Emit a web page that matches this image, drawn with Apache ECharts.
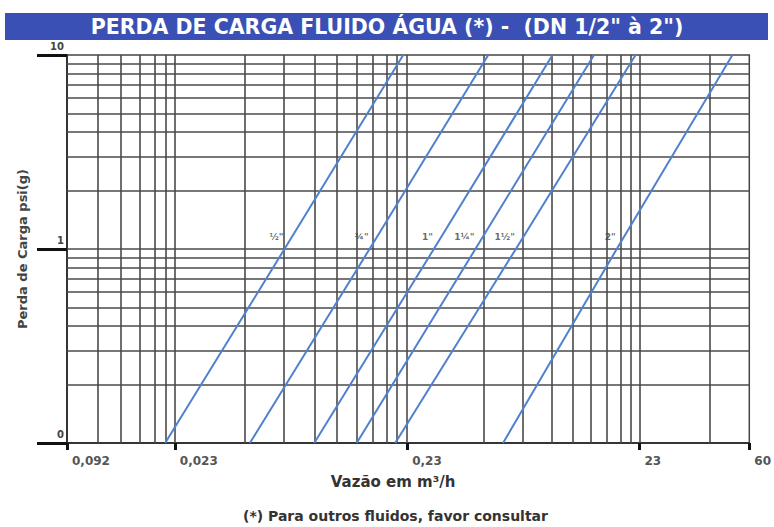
<!DOCTYPE html>
<html><head><meta charset="utf-8">
<script src="https://cdn.jsdelivr.net/npm/echarts@6/dist/echarts.min.js"></script>
<style>html,body{margin:0;padding:0;background:#fff}#c{width:774px;height:527px}</style>
</head><body><div id="c"></div>
<script>
const titleText = 'PERDA DE CARGA FLUIDO ÁGUA (*) -  (DN 1/2" à 2")';
const xAxisName = 'Vazão em m³/h';
const yAxisName = 'Perda de Carga psi(g)';
const footnote = '(*) Para outros fluidos, favor consultar';

const xMin = 0.0079, xMax = 6.83;
const yMin = 0.1, yMax = 10;
const xTickValues = [0.0079, 0.023, 0.23, 2.3, 6.83];
const xTickLabels = ['0,092', '0,023', '0,23', '23', '60'];
const yTickValues = [0.1, 1, 10];
const yTickLabels = ['0', '1', '10'];
const xGridValues = [0.0107, 0.0134, 0.0162, 0.0189, 0.0211, 0.023,
  0.046, 0.068, 0.092, 0.115, 0.139, 0.163, 0.187, 0.208, 0.23,
  0.49, 0.72, 0.96, 1.19, 1.42, 1.67, 1.91, 2.11, 2.3, 4.6];
const yGridValues = [0.2, 0.3, 0.4, 0.5, 0.6, 0.7, 0.8, 0.9, 1, 2, 3, 4, 5, 6, 7, 8, 9];
const lineNames = ['½"', '¾"', '1"', '1¼"', '1½"', '2"'];
const flowAtLow = [0.0209, 0.0484, 0.0916, 0.1395, 0.2044, 0.595];   // at 0.1 psi
const flowAt1psi = [0.0682, 0.1585, 0.2997, 0.4524, 0.6757, 1.836]; // at 1 psi
const flowAtHigh = [0.2212, 0.5137, 0.9713, 1.4655, 2.212, 5.778];  // at 10 psi

const FONT = 'DejaVu Sans';
function lookup(vals, labels, v) {
  for (let i = 0; i < vals.length; i++) if (Math.abs(v - vals[i]) / vals[i] < 1e-6) return labels[i];
  return '';
}

const chart = echarts.init(document.getElementById('c'), null, {renderer: 'svg'});

const series = [{
  type: 'lines', coordinateSystem: 'cartesian2d', silent: true, z: 1, polyline: false,
  lineStyle: {color: '#4a4a4a', width: 1.6, opacity: 1},
  data: xGridValues.map(v => ({coords: [[v, yMin], [v, yMax]]}))
    .concat(yGridValues.map(v => ({coords: [[xMin, v], [xMax, v]]})))
}];
lineNames.forEach((n, i) => {
  series.push({
    type: 'line', name: n, z: 3, symbol: 'none',
    lineStyle: {color: '#5180cf', width: 2},
    data: [[flowAtLow[i], 0.1], [flowAt1psi[i], 1], [flowAtHigh[i], 10]]
  });
});
series.push({
  type: 'scatter', z: 4, symbolSize: 0, silent: true,
  data: lineNames.map((n, i) => ({name: n, value: [flowAt1psi[i], 1]})),
  label: {show: true, formatter: '{b}', position: 'left', distance: 1, offset: [0, -12],
    fontSize: 9, fontWeight: 'bold', color: '#444', fontFamily: FONT}
});

chart.setOption({
  animation: false,
  title: [
    {text: titleText, left: 'center', top: 16, padding: [0, 0, 0, 12], z: 10,
     textStyle: {color: '#fff', fontSize: 20.5, fontWeight: 'bold', fontFamily: FONT}},
    {text: footnote, left: 243, top: 509, padding: 0,
     textStyle: {color: '#333', fontSize: 14, fontWeight: 'bold', fontFamily: FONT}}
  ],
  graphic: [{type: 'rect', left: 5, top: 13, z: 0, shape: {width: 763, height: 27}, style: {fill: '#3a50b4'}}],
  grid: {left: 67, right: 17, top: 55, bottom: 84, show: true, borderColor: '#444', borderWidth: 1.5},
  xAxis: {
    type: 'log', logBase: 10, min: xMin, max: xMax,
    name: xAxisName, nameLocation: 'middle', nameGap: 31,
    nameTextStyle: {fontSize: 15, fontWeight: 'bold', color: '#333', fontFamily: FONT, padding: [0, 30, 0, 0]},
    axisLine: {show: true, lineStyle: {color: '#222', width: 1.5}},
    axisTick: {show: true, customValues: xTickValues, length: 7, lineStyle: {color: '#111', width: 3}},
    axisLabel: {customValues: xTickValues, showMinLabel: true, showMaxLabel: true, hideOverlap: false,
      formatter: v => lookup(xTickValues, xTickLabels, v), align: 'left', margin: 12, padding: [0, 0, 0, 5],
      fontSize: 12, fontWeight: 'bold', color: '#555', fontFamily: FONT},
    splitLine: {show: false}, minorTick: {show: false}, minorSplitLine: {show: false}
  },
  yAxis: {
    type: 'log', logBase: 10, min: yMin, max: yMax,
    name: yAxisName, nameLocation: 'middle', nameGap: 38, nameRotate: 90,
    nameTextStyle: {fontSize: 13, fontWeight: 'bold', color: '#444', fontFamily: FONT},
    axisLine: {show: true, lineStyle: {color: '#222', width: 1.5}},
    axisTick: {show: true, customValues: yTickValues, length: 30, lineStyle: {color: '#111', width: 3}},
    axisLabel: {customValues: yTickValues, showMinLabel: true, showMaxLabel: true, hideOverlap: false,
      formatter: v => lookup(yTickValues, yTickLabels, v), margin: 3, verticalAlign: 'bottom', padding: [0, 0, 4, 0],
      fontSize: 10, fontWeight: 'bold', color: '#444', fontFamily: FONT},
    splitLine: {show: false}, minorTick: {show: false}, minorSplitLine: {show: false}
  },
  series: series
});
</script></body></html>
